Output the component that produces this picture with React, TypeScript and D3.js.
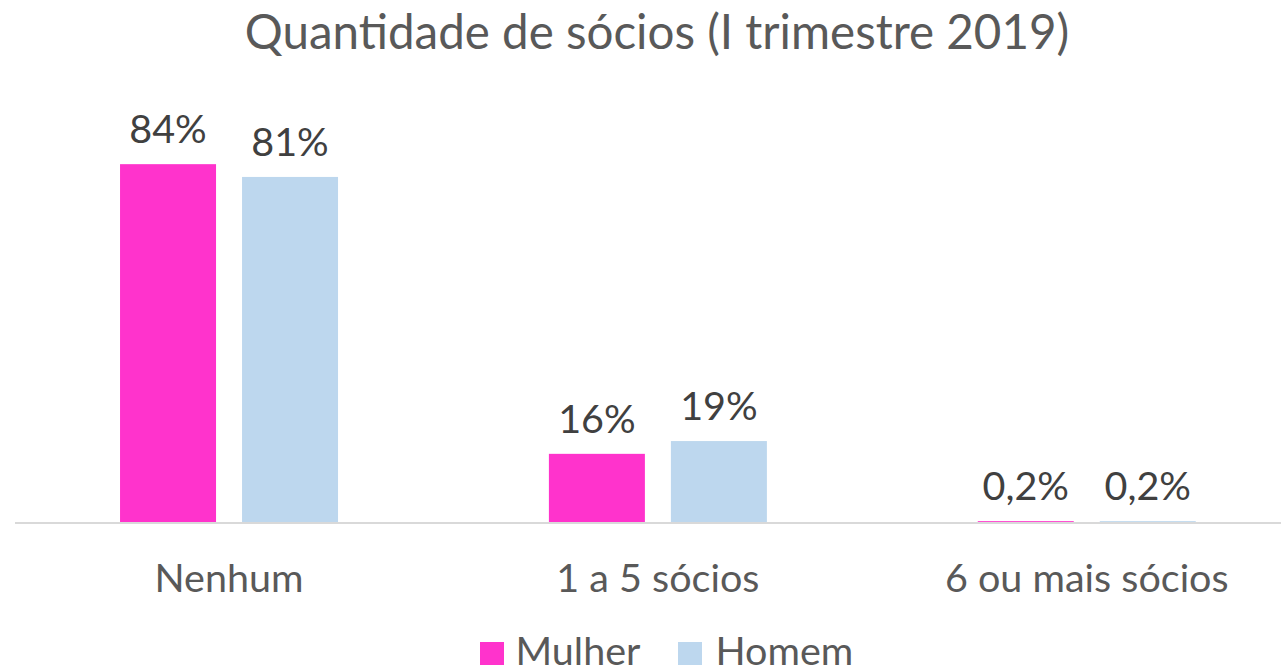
import React from "react";
import * as d3 from "d3";

const categories = ["Nenhum", "1 a 5 sócios", "6 ou mais sócios"];
const seriesNames = ["Mulher", "Homem"];
const mulher = [84, 16, 0.2];
const homem = [81, 19, 0.2];
const labelsMulher = ["84%", "16%", "0,2%"];
const labelsHomem = ["81%", "19%", "0,2%"];
const colors = ["#FF33CC", "#BDD7EE"];
const title = "Quantidade de sócios (I trimestre 2019)";

const W = 1281;
const H = 669;
const FONT = "Lato, Carlito, Calibri, sans-serif";

export default function App() {
  const baseY = 522;
  const x0 = d3.scaleBand().domain(categories).range([14.6, 1301.2]).paddingInner(0).paddingOuter(0);
  const barW = 96;
  const gap = 26;
  const y = d3.scaleLinear().domain([0, 100]).range([baseY, baseY - 426]);
  const series = [mulher, homem];
  const labels = [labelsMulher, labelsHomem];
  return (
    <svg width={W} height={H} style={{ position: "absolute", left: 0, top: 0, background: "#fff" }}>
      <text x={657} y={49} textAnchor="middle" fontFamily={FONT} fontSize={47.5} fill="#595959">
        {title}
      </text>
      <line x1={15} x2={W} y1={baseY + 1} y2={baseY + 1} stroke="#D9D9D9" strokeWidth={2} />
      {categories.map((c, i) => {
        const cx = (x0(c) as number) + x0.bandwidth() / 2;
        const start = cx - (2 * barW + gap) / 2;
        return (
          <g key={c}>
            {series.map((s, j) => {
              const bx = start + j * (barW + gap);
              const top = y(s[i]);
              return (
                <g key={j}>
                  <rect x={bx} y={top} width={barW} height={baseY - top} fill={colors[j]} />
                  <text x={bx + barW / 2} y={top - 21} textAnchor="middle" fontFamily={FONT} fontSize={39.5} fill="#404040">
                    {labels[j][i]}
                  </text>
                </g>
              );
            })}
            <text x={cx} y={592} textAnchor="middle" fontFamily={FONT} fontSize={39.5} fill="#595959">
              {c}
            </text>
          </g>
        );
      })}
      {seriesNames.map((n, j) => {
        const lx = [480, 678][j];
        return (
          <g key={n}>
            <rect x={lx} y={642} width={24} height={23} fill={colors[j]} />
            <text x={lx + 35.5 + j * 2} y={665} fontFamily={FONT} fontSize={39.5} fill="#595959">
              {n}
            </text>
          </g>
        );
      })}
    </svg>
  );
}
